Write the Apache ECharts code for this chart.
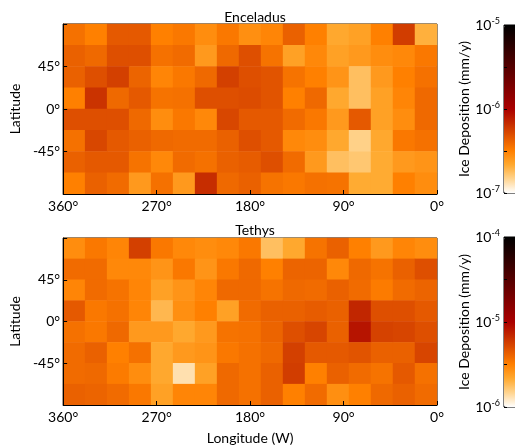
<!DOCTYPE html>
<html>
<head>
<meta charset="utf-8">
<script src="https://cdn.jsdelivr.net/npm/echarts@6/dist/echarts.min.js"></script>
<style>
  html, body { margin: 0; padding: 0; background: #fff; }
  #chart { width: 515px; height: 446px; }
</style>
</head>
<body>
<div id="chart"></div>
<script>
// 17 longitude bins (360° W -> 0° W), 8 latitude bins (north -> south)
const lonBins = Array.from({ length: 17 }, (_, i) => 'L' + i);
const latBins = Array.from({ length: 8 }, (_, i) => 'B' + i);

// log10 of ice deposition (mm/y), rows top (north) to bottom (south)
const enceladusLog = [
  [-6.44, -6.50, -6.35, -6.35, -6.50, -6.47, -6.55, -6.47, -6.56, -6.52, -6.38, -6.50, -6.66, -6.63, -6.50, -6.24, -6.69],
  [-6.38, -6.41, -6.31, -6.31, -6.44, -6.42, -6.60, -6.41, -6.31, -6.45, -6.63, -6.53, -6.63, -6.60, -6.55, -6.53, -6.47],
  [-6.38, -6.31, -6.25, -6.39, -6.52, -6.47, -6.41, -6.25, -6.31, -6.33, -6.45, -6.50, -6.58, -6.75, -6.60, -6.50, -6.44],
  [-6.50, -6.20, -6.41, -6.35, -6.45, -6.44, -6.31, -6.31, -6.30, -6.33, -6.50, -6.41, -6.66, -6.75, -6.63, -6.52, -6.41],
  [-6.31, -6.31, -6.31, -6.41, -6.55, -6.47, -6.53, -6.28, -6.35, -6.35, -6.42, -6.47, -6.60, -6.35, -6.63, -6.55, -6.41],
  [-6.44, -6.28, -6.35, -6.38, -6.41, -6.42, -6.42, -6.38, -6.31, -6.35, -6.53, -6.55, -6.66, -6.82, -6.66, -6.47, -6.44],
  [-6.38, -6.35, -6.35, -6.45, -6.53, -6.42, -6.44, -6.38, -6.36, -6.31, -6.42, -6.60, -6.75, -6.78, -6.67, -6.60, -6.58],
  [-6.50, -6.38, -6.42, -6.60, -6.44, -6.60, -6.18, -6.41, -6.38, -6.45, -6.47, -6.44, -6.45, -6.67, -6.67, -6.50, -6.55]
];

const tethysLog = [
  [-5.55, -5.47, -5.52, -5.25, -5.47, -5.53, -5.55, -5.53, -5.47, -5.75, -5.66, -5.45, -5.38, -5.50, -5.60, -5.52, -5.55],
  [-5.42, -5.42, -5.53, -5.53, -5.58, -5.47, -5.58, -5.47, -5.41, -5.50, -5.39, -5.39, -5.53, -5.41, -5.45, -5.38, -5.31],
  [-5.52, -5.42, -5.45, -5.52, -5.63, -5.58, -5.52, -5.41, -5.41, -5.45, -5.41, -5.42, -5.38, -5.42, -5.48, -5.42, -5.39],
  [-5.35, -5.47, -5.44, -5.52, -5.72, -5.56, -5.50, -5.63, -5.42, -5.38, -5.38, -5.36, -5.38, -5.15, -5.31, -5.31, -5.35],
  [-5.44, -5.47, -5.41, -5.60, -5.60, -5.66, -5.60, -5.45, -5.44, -5.39, -5.31, -5.27, -5.38, -5.08, -5.26, -5.27, -5.31],
  [-5.42, -5.38, -5.50, -5.44, -5.66, -5.60, -5.58, -5.47, -5.44, -5.41, -5.25, -5.35, -5.35, -5.33, -5.38, -5.38, -5.27],
  [-5.42, -5.41, -5.48, -5.55, -5.66, -5.88, -5.63, -5.41, -5.44, -5.38, -5.24, -5.50, -5.38, -5.42, -5.45, -5.35, -5.44],
  [-5.38, -5.39, -5.42, -5.47, -5.63, -5.52, -5.52, -5.41, -5.44, -5.38, -5.50, -5.42, -5.56, -5.50, -5.41, -5.38, -5.42]
];

// colour bar ranges (log10)
const enceladusRange = [-7, -5];
const tethysRange = [-6, -4];

// heat colour map, white -> orange -> red -> black (13 even stops)
const heatColors = ['#ffffff', '#ffd490', '#ffaa30', '#ff8000', '#e25500', '#c42a00', '#aa0000',
  '#8e0000', '#710000', '#550000', '#390000', '#1c0000', '#000000'];

const toCells = rows => {
  const out = [];
  rows.forEach((row, r) => row.forEach((v, c) => out.push([c, r, v])));
  return out;
};

const FONT = 'Lato';
const grids = [
  { left: 63, top: 24, width: 374, height: 170, show: true, borderColor: '#000', borderWidth: 1 },
  { left: 63, top: 238, width: 374, height: 169, show: true, borderColor: '#000', borderWidth: 1 },
  // colour bars
  { left: 504, top: 25, width: 22, height: 168, show: true, borderColor: '#000', borderWidth: 1 },
  { left: 504, top: 237, width: 22, height: 170, show: true, borderColor: '#000', borderWidth: 1 }
];

const degLabel = v => v + '°';
const latLabel = v => (Math.abs(v) === 90 ? '' : v + '°');
const powLabel = v => (Number.isInteger(v) ? '{b|10}{s|' + v + '}' : '');

const xAxes = [];
const yAxes = [];
[0, 1].forEach(g => {
  xAxes.push({ type: 'category', gridIndex: g, data: lonBins, show: false });
  xAxes.push({
    type: 'value', gridIndex: g, position: 'bottom', min: 0, max: 360, interval: 90, inverse: true,
    axisLine: { show: true, lineStyle: { color: '#000', width: 1 } },
    axisTick: { show: true, inside: true, length: 4, lineStyle: { color: '#000' } },
    splitLine: { show: false },
    axisLabel: { formatter: degLabel, color: '#000', fontFamily: FONT, fontSize: 14, margin: 5 },
    name: g === 1 ? 'Longitude (W)' : '', nameLocation: 'middle', nameGap: 26,
    nameTextStyle: { color: '#000', fontFamily: FONT, fontSize: 14 },
    z: 5
  });
  yAxes.push({ type: 'category', gridIndex: g, data: latBins, inverse: true, show: false });
  yAxes.push({
    type: 'value', gridIndex: g, position: 'left', min: -90, max: 90, interval: 45,
    axisLine: { show: true, lineStyle: { color: '#000', width: 1 } },
    axisTick: { show: true, inside: true, length: 4, lineStyle: { color: '#000' } },
    splitLine: { show: false },
    axisLabel: { formatter: latLabel, color: '#000', fontFamily: FONT, fontSize: 14, margin: 3 },
    name: 'Latitude', nameLocation: 'middle', nameGap: 36,
    nameTextStyle: { color: '#000', fontFamily: FONT, fontSize: 14 },
    z: 5
  });
});

// colour bar axes
[[2, enceladusRange], [3, tethysRange]].forEach(([g, rng]) => {
  xAxes.push({ type: 'value', gridIndex: g, show: false });
  yAxes.push({
    type: 'value', gridIndex: g, position: 'left', min: rng[0], max: rng[1], interval: 0.5,
    axisLine: { show: false },
    axisTick: { show: true, inside: true, length: 3, lineStyle: { color: '#000' } },
    splitLine: { show: false },
    axisLabel: {
      formatter: powLabel, margin: 4, color: '#000',
      rich: {
        b: { fontFamily: FONT, fontSize: 14, color: '#000' },
        s: { fontFamily: FONT, fontSize: 9, color: '#000', verticalAlign: 'top', padding: [0, 0, 8, 0] }
      }
    },
    name: 'Ice Deposition (mm/y)', nameLocation: 'middle', nameGap: 32,
    nameTextStyle: { color: '#000', fontFamily: FONT, fontSize: 14 },
    z: 5
  });
});

const option = {
  animation: false,
  title: [
    { text: 'Enceladus', left: 250, top: 5, textAlign: 'center',
      textStyle: { fontFamily: FONT, fontSize: 14, fontWeight: 'normal', color: '#000' } },
    { text: 'Tethys', left: 250, top: 218, textAlign: 'center',
      textStyle: { fontFamily: FONT, fontSize: 14, fontWeight: 'normal', color: '#000' } }
  ],
  grid: grids,
  xAxis: xAxes,
  yAxis: yAxes,
  visualMap: [
    { type: 'continuous', seriesIndex: 0, min: enceladusRange[0], max: enceladusRange[1],
      inRange: { color: heatColors }, show: true, calculable: false, padding: 0,
      left: 504, top: 25, itemWidth: 22, itemHeight: 168, text: null, textGap: 0,
      textStyle: { fontSize: 0 } },
    { type: 'continuous', seriesIndex: 1, min: tethysRange[0], max: tethysRange[1],
      inRange: { color: heatColors }, show: true, calculable: false, padding: 0,
      left: 504, top: 237, itemWidth: 22, itemHeight: 170, text: null, textGap: 0,
      textStyle: { fontSize: 0 } }
  ],
  series: [
    { name: 'Enceladus', type: 'heatmap', xAxisIndex: 0, yAxisIndex: 0,
      data: toCells(enceladusLog), itemStyle: { borderWidth: 0 } },
    { name: 'Tethys', type: 'heatmap', xAxisIndex: 2, yAxisIndex: 2,
      data: toCells(tethysLog), itemStyle: { borderWidth: 0 } }
  ]
};

const myChart = echarts.init(document.getElementById('chart'));
myChart.setOption(option);
</script>
</body>
</html>
